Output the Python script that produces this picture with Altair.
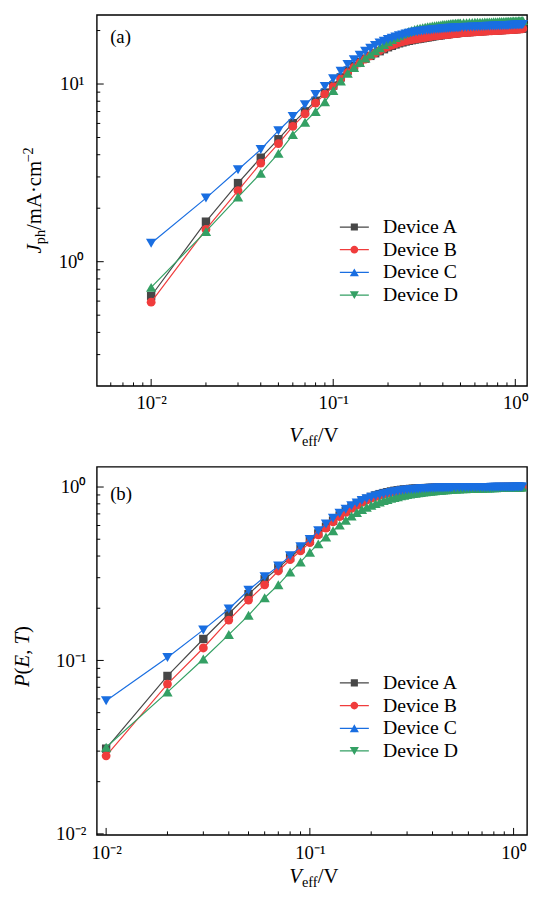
import altair as alt
import pandas as pd

FONT = "Liberation Serif"

# ---------------- data ----------------
V = [0.01, 0.02, 0.03, 0.04, 0.05, 0.06, 0.07, 0.08, 0.09, 0.10,
     0.11, 0.12, 0.13, 0.14, 0.15, 0.16, 0.17, 0.18, 0.19, 0.20,
     0.21, 0.22, 0.23, 0.24, 0.25, 0.26, 0.27, 0.28, 0.29, 0.30,
     0.31, 0.32, 0.33, 0.34, 0.35, 0.36, 0.37, 0.38, 0.39, 0.40,
     0.41, 0.42, 0.43, 0.44, 0.45, 0.46, 0.47, 0.48, 0.49, 0.50,
     0.52, 0.54, 0.56, 0.58, 0.60, 0.62, 0.64, 0.66, 0.68, 0.70,
     0.72, 0.74, 0.76, 0.78, 0.80, 0.82, 0.84, 0.86, 0.88, 0.90,
     0.92, 0.94, 0.96, 0.98, 1.00, 1.02, 1.04, 1.06, 1.08, 1.10]

J_A = [0.641, 1.68, 2.77, 3.85, 4.89, 6.02, 7.02, 8.05, 8.95, 9.80,
       10.9, 11.9, 12.6, 13.3, 13.9, 14.4, 14.9, 15.3, 15.7, 16.1,
       16.4, 16.7, 16.95, 17.15, 17.35, 17.5, 17.65, 17.8, 17.9, 18.0,
       18.1, 18.2, 18.3, 18.4, 18.5, 18.6, 18.7, 18.75, 18.8, 18.9,
       18.95, 19.0, 19.1, 19.15, 19.2, 19.25, 19.3, 19.35, 19.4, 19.45,
       19.5, 19.55, 19.6, 19.65, 19.7, 19.75, 19.8, 19.84, 19.88, 19.92,
       19.95, 19.98, 20.01, 20.04, 20.07, 20.1, 20.13, 20.16, 20.19, 20.22,
       20.25, 20.28, 20.31, 20.34, 20.37, 20.4, 20.43, 20.46, 20.48, 20.5]
J_B = [0.592, 1.52, 2.51, 3.59, 4.62, 5.77, 6.79, 7.81, 8.77, 9.66,
       10.7, 11.6, 12.4, 13.15, 13.8, 14.4, 14.95, 15.4, 15.85, 16.25,
       16.55, 16.85, 17.1, 17.3, 17.5, 17.65, 17.8, 17.9, 18.0, 18.1,
       18.2, 18.3, 18.4, 18.5, 18.6, 18.7, 18.75, 18.8, 18.85, 18.9,
       18.95, 19.0, 19.05, 19.1, 19.15, 19.2, 19.25, 19.3, 19.35, 19.4,
       19.45, 19.5, 19.55, 19.6, 19.65, 19.7, 19.74, 19.78, 19.82, 19.86,
       19.9, 19.93, 19.96, 19.99, 20.02, 20.05, 20.08, 20.11, 20.14, 20.17,
       20.2, 20.23, 20.26, 20.29, 20.32, 20.35, 20.38, 20.41, 20.44, 20.47]
J_C = [1.27, 2.28, 3.29, 4.28, 5.46, 6.56, 7.64, 8.72, 9.70, 10.7,
       11.8, 12.9, 13.7, 14.5, 15.3, 15.9, 16.5, 17.0, 17.4, 17.8,
       18.1, 18.4, 18.7, 18.9, 19.1, 19.3, 19.45, 19.6, 19.7, 19.8,
       19.9, 20.0, 20.05, 20.1, 20.2, 20.25, 20.3, 20.35, 20.4, 20.45,
       20.5, 20.55, 20.6, 20.62, 20.65, 20.68, 20.7, 20.73, 20.76, 20.8,
       20.83, 20.86, 20.9, 20.93, 20.96, 21.0, 21.03, 21.06, 21.09, 21.12,
       21.15, 21.18, 21.2, 21.23, 21.26, 21.28, 21.3, 21.32, 21.34, 21.36,
       21.38, 21.4, 21.42, 21.45, 21.48, 21.5, 21.52, 21.54, 21.56, 21.6]
J_D = [0.717, 1.48, 2.31, 3.15, 4.07, 5.19, 6.10, 7.00, 7.94, 9.20,
       10.4, 11.5, 12.4, 13.2, 14.0, 14.7, 15.4, 16.0, 16.7, 17.3,
       17.8, 18.25, 18.7, 19.1, 19.45, 19.75, 20.0, 20.25, 20.45, 20.6,
       20.75, 20.9, 21.0, 21.1, 21.2, 21.3, 21.38, 21.45, 21.52, 21.6,
       21.66, 21.72, 21.78, 21.83, 21.88, 21.92, 21.96, 22.0, 22.04, 22.08,
       22.12, 22.15, 22.18, 22.21, 22.24, 22.26, 22.28, 22.3, 22.32, 22.34,
       22.36, 22.38, 22.4, 22.42, 22.44, 22.46, 22.48, 22.5, 22.52, 22.54,
       22.56, 22.58, 22.6, 22.62, 22.64, 22.66, 22.68, 22.7, 22.72, 22.75]

P_A = [0.031, 0.0814, 0.133, 0.186, 0.241, 0.294, 0.342, 0.392, 0.442, 0.490,
       0.540, 0.590, 0.640, 0.685, 0.726, 0.763, 0.797, 0.830, 0.855, 0.877,
       0.895, 0.910, 0.923, 0.934, 0.943, 0.951, 0.958, 0.963, 0.968, 0.972,
       0.975, 0.978, 0.980, 0.982, 0.984, 0.985, 0.986, 0.987, 0.988, 0.989,
       0.990, 0.990, 0.991, 0.991, 0.992, 0.992, 0.993, 0.993, 0.994, 0.994,
       0.995, 0.995, 0.996, 0.996, 0.996, 0.997, 0.997, 0.997, 0.997, 0.998,
       0.998, 0.998, 0.998, 0.998, 0.999, 0.999, 0.999, 0.999, 0.999, 0.999,
       1.0, 1.0, 1.0, 1.0, 1.0, 1.0, 1.0, 1.0, 1.0, 1.0]
P_B = [0.0282, 0.0731, 0.118, 0.171, 0.223, 0.273, 0.328, 0.381, 0.428, 0.478,
       0.530, 0.580, 0.630, 0.675, 0.715, 0.752, 0.785, 0.815, 0.840, 0.862,
       0.880, 0.896, 0.910, 0.922, 0.932, 0.940, 0.947, 0.953, 0.958, 0.963,
       0.967, 0.970, 0.973, 0.975, 0.977, 0.979, 0.980, 0.982, 0.983, 0.984,
       0.985, 0.986, 0.987, 0.987, 0.988, 0.989, 0.989, 0.990, 0.990, 0.991,
       0.991, 0.992, 0.992, 0.993, 0.993, 0.993, 0.994, 0.994, 0.994, 0.995,
       0.995, 0.995, 0.995, 0.996, 0.996, 0.996, 0.996, 0.997, 0.997, 0.997,
       0.997, 0.998, 0.998, 0.998, 0.998, 0.999, 0.999, 0.999, 0.999, 1.0]
P_C = [0.0586, 0.104, 0.150, 0.198, 0.254, 0.304, 0.350, 0.401, 0.453, 0.499,
       0.560, 0.612, 0.660, 0.705, 0.745, 0.780, 0.810, 0.835, 0.855, 0.872,
       0.887, 0.900, 0.912, 0.922, 0.931, 0.939, 0.946, 0.952, 0.957, 0.962,
       0.966, 0.969, 0.972, 0.975, 0.977, 0.979, 0.981, 0.982, 0.983, 0.984,
       0.985, 0.986, 0.987, 0.988, 0.988, 0.989, 0.989, 0.990, 0.990, 0.991,
       0.991, 0.992, 0.992, 0.993, 0.993, 0.993, 0.994, 0.994, 0.994, 0.995,
       0.995, 0.995, 0.995, 0.996, 0.996, 0.996, 0.996, 0.997, 0.997, 0.997,
       0.997, 0.998, 0.998, 0.998, 0.998, 0.999, 0.999, 0.999, 0.999, 1.0]
P_D = [0.0316, 0.0657, 0.102, 0.141, 0.182, 0.230, 0.273, 0.324, 0.370, 0.421,
       0.470, 0.515, 0.560, 0.603, 0.643, 0.680, 0.713, 0.743, 0.765, 0.785,
       0.803, 0.820, 0.835, 0.848, 0.860, 0.870, 0.880, 0.889, 0.897, 0.904,
       0.910, 0.916, 0.921, 0.926, 0.931, 0.935, 0.939, 0.943, 0.946, 0.949,
       0.952, 0.955, 0.957, 0.959, 0.961, 0.963, 0.965, 0.967, 0.969, 0.970,
       0.972, 0.974, 0.976, 0.977, 0.979, 0.980, 0.981, 0.983, 0.984, 0.985,
       0.986, 0.987, 0.988, 0.989, 0.990, 0.991, 0.992, 0.992, 0.993, 0.994,
       0.995, 0.995, 0.996, 0.997, 0.997, 0.998, 0.998, 0.999, 0.999, 1.0]

devices = ["Device A", "Device B", "Device C", "Device D"]

# tick positions
x_major = [0.01, 0.1, 1]
xa_minor = [0.006, 0.007, 0.008, 0.009, 0.02, 0.03, 0.04, 0.05, 0.06, 0.07, 0.08, 0.09,
            0.2, 0.3, 0.4, 0.5, 0.6, 0.7, 0.8, 0.9]
xb_minor = [0.02, 0.03, 0.04, 0.05, 0.06, 0.07, 0.08, 0.09,
            0.2, 0.3, 0.4, 0.5, 0.6, 0.7, 0.8, 0.9]
ya_major = [1, 10]
ya_minor = [0.3, 0.4, 0.5, 0.6, 0.7, 0.8, 0.9, 2, 3, 4, 5, 6, 7, 8, 9, 20]
yb_major = [0.01, 0.1, 1]
yb_minor = [0.02, 0.03, 0.04, 0.05, 0.06, 0.07, 0.08, 0.09,
            0.2, 0.3, 0.4, 0.5, 0.6, 0.7, 0.8, 0.9]

# ---------------- styling ----------------
colors = ["#474747", "#F03C3C", "#196EE1", "#34A064"]
plot_shapes = ["square", "circle", "triangle-down", "triangle-up"]
marker_sizes = [72, 80, 110, 110]
LINE = "M-1.47,-0.065H1.47V0.065H-1.47Z"
legend_shapes = [
    LINE + "M-0.36,-0.36H0.36V0.36H-0.36Z",
    LINE + "M0.39,0A0.39 0.39 0 1 1 -0.39 0A0.39 0.39 0 1 1 0.39 0Z",
    LINE + "M0,-0.4L0.46,0.4L-0.46,0.4Z",
    LINE + "M-0.46,-0.4L0.46,-0.4L0,0.4Z",
]

rows = []
for d, js, ps in zip(devices, [J_A, J_B, J_C, J_D], [P_A, P_B, P_C, P_D]):
    for v, j, p in zip(V, js, ps):
        rows.append({"V": v, "J": j, "P": p, "Device": d})
df = pd.DataFrame(rows)
one = pd.DataFrame({"k": [0]})

W = 436
HA, HB = 376, 373
MAJ, MIN = 7, 3.5
LAB = "datum.value < 0.05 ? '10⁻²' : (datum.value < 0.5 ? '10⁻¹' : (datum.value < 5 ? '10⁰' : '10¹'))"


def piece(txt, x, y, size, italic=False, angle=0, align="left", baseline="alphabetic"):
    kw = dict(text=txt, font=FONT, fontSize=size, color="black", align=align,
              baseline=baseline)
    if italic:
        kw["fontStyle"] = "italic"
    if angle:
        kw["angle"] = angle
    return alt.Chart(one).mark_text(**kw).encode(x=alt.value(x), y=alt.value(y))


def xtitle(base):
    return [piece("V", 195.1, base, 21, italic=True),
            piece("eff", 207.9, base + 3.5, 14.5),
            piece("/V", 224.0, base, 21)]


def panel(ycol, H, xdom, ydom, xminor, ymajor, yminor, xpad, ypad, tag, tagx, tagy,
          title_layers, legy):
    xs = alt.Scale(type="log", domain=xdom, nice=False)
    ys = alt.Scale(type="log", domain=ydom, nice=False)
    xe0 = alt.X("V:Q", scale=xs, axis=alt.Axis(
        values=x_major, labelExpr=LAB, ticks=False, tickSize=0, domain=False,
        grid=False, title=None, labelFont=FONT, labelFontSize=19,
        labelColor="black", labelPadding=xpad, labelFlush=False,
        labelOverlap=False))
    ye0 = alt.Y(f"{ycol}:Q", scale=ys, axis=alt.Axis(
        values=ymajor, labelExpr=LAB, ticks=False, tickSize=0, domain=False,
        grid=False, title=None, labelFont=FONT, labelFontSize=19,
        labelColor="black", labelPadding=ypad, labelOverlap=False,
        minExtent=89, maxExtent=89))
    xe = alt.X("V:Q", scale=xs)
    ye = alt.Y(f"{ycol}:Q", scale=ys)

    layers = []
    first = True
    for i in [0, 1, 3, 2]:
        sub = alt.Chart(df).transform_filter(alt.datum.Device == devices[i])
        layers.append(sub.mark_line(color=colors[i], strokeWidth=1.2).encode(
            x=xe0 if first else xe, y=ye0 if first else ye))
        first = False
        layers.append(sub.mark_point(shape=plot_shapes[i], filled=True, size=marker_sizes[i],
                                     color=colors[i], opacity=1).encode(x=xe, y=ye))

    leg_kw = dict(title=None, orient="none", legendX=251, legendY=legy, symbolSize=400,
                  labelFont=FONT, labelFontSize=20, labelColor="black", labelOffset=19,
                  rowPadding=3, padding=0, symbolStrokeWidth=0, symbolOpacity=1)
    leg = alt.Chart(df).transform_filter("false").mark_point(filled=True, opacity=1).encode(
        x=xe, y=ye,
        color=alt.Color("Device:N", scale=alt.Scale(domain=devices, range=colors),
                        legend=alt.Legend(**leg_kw)),
        shape=alt.Shape("Device:N", scale=alt.Scale(domain=devices, range=legend_shapes),
                        legend=alt.Legend(**leg_kw)))

    tag_l = piece(tag, tagx, tagy, 19)

    ticks = []
    for vals, L in [(x_major, MAJ), (xminor, MIN)]:
        ticks.append(alt.Chart(pd.DataFrame({"t": vals})).mark_rule(
            color="black", strokeWidth=1).encode(
            x=alt.X("t:Q", scale=xs), y=alt.value(H), y2=alt.value(H - L)))
    for vals, L in [(ymajor, MAJ), (yminor, MIN)]:
        ticks.append(alt.Chart(pd.DataFrame({"t": vals})).mark_rule(
            color="black", strokeWidth=1).encode(
            y=alt.Y("t:Q", scale=ys), x=alt.value(0), x2=alt.value(L)))

    return alt.layer(*layers, leg, tag_l, *ticks, *title_layers).properties(width=W, height=H)


# y title (a): J_ph / mA·cm^-2 (rotated pieces)
ya_title = [
    piece("J", -56.5, 241.75, 21, italic=True, angle=270),
    piece("ph", -52.5, 232.4, 14.5, angle=270),
    piece("/mA·cm", -56.5, 217.9, 21, angle=270),
    piece("−2", -64.5, 149.65, 14.5, angle=270),
]
# y title (b): P(E, T)
yb_title = [
    piece("P", -69, 223.2, 21, italic=True, angle=270),
    piece("(", -69, 210.37, 21, angle=270),
    piece("E", -69, 203.37, 21, italic=True, angle=270),
    piece(", ", -69, 190.54, 21, angle=270),
    piece("T", -69, 180.04, 21, italic=True, angle=270),
    piece(")", -69, 168.36, 21, angle=270),
]

pa = panel("J", HA, [0.00503, 1.16], [0.2, 24.5], xa_minor, ya_major, ya_minor, 8, 13,
           "(a)", 13.5, 28.5, ya_title + xtitle(HA + 57), 205)
pb = panel("P", HB, [0.0090, 1.164], [0.00987, 1.308], xb_minor, yb_major, yb_minor, 9, 11,
           "(b)", 13.5, 34, yb_title + xtitle(HB + 49), 209)

chart = alt.vconcat(pa, pb, spacing=82, bounds="flush").resolve_scale(
    color="independent", shape="independent").resolve_legend(
    color="independent", shape="independent").properties(
    padding={"left": 0, "top": 0, "right": 0, "bottom": 0})
chart = chart.configure(font=FONT)
chart = chart.configure_view(stroke="black", strokeWidth=1.4)

chart.save("out.html", embed_options={"renderer": "svg", "actions": False})
